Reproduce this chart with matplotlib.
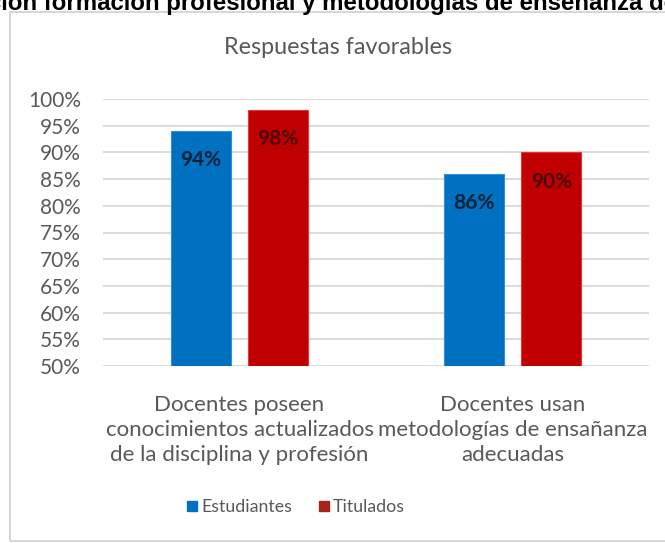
import matplotlib
matplotlib.use("Agg")
import matplotlib.pyplot as plt
import numpy as np
from matplotlib.patches import Rectangle
from matplotlib.lines import Line2D

# Data
categories = [
    "Docentes poseen\nconocimientos actualizados\nde la disciplina y profesión",
    "Docentes usan\nmetodologías de ensañanza\nadecuadas",
]
series_names = ["Estudiantes", "Titulados"]
estudiantes = [0.94, 0.86]
titulados = [0.98, 0.90]
yticks = [0.50, 0.55, 0.60, 0.65, 0.70, 0.75, 0.80, 0.85, 0.90, 0.95, 1.00]

blue = "#0070C0"
red = "#C00000"
gray_text = "#595959"
grid_gray = "#D9D9D9"
font = "Lato"

W, H = 665, 543
fig = plt.figure(figsize=(W / 100, H / 100), dpi=100)

# Chart area frame
frame = Rectangle((10 / W, 1 - 541 / H), (672 - 10) / W, (541 - 12) / H,
                  transform=fig.transFigure, facecolor="none",
                  edgecolor="#CFCFCF", linewidth=1.2, zorder=-1)
fig.patches.append(frame)

# Page heading, cut by the image edge
heading = "Percepción formación profesional y metodologías de enseñanza docente"
prefix = "Percepci"
hsize = 17.3
renderer = fig.canvas.get_renderer()
tmp = fig.text(0, 0, prefix, fontsize=hsize, fontweight="bold", family="Liberation Sans")
pw = tmp.get_window_extent(renderer).width
tmp.remove()
fig.text((-pw + 8) / W, 1 - 10 / H, heading, fontsize=hsize, fontweight="bold",
         family="Liberation Sans", ha="left", va="baseline", color="black")

ax = fig.add_axes([103 / W, 1 - 366 / H, (649 - 103) / W, (366 - 99) / H])
ax.set_facecolor("none")

x = np.arange(len(categories))
bw = 0.22
off = 0.142
b1 = ax.bar(x - off, estudiantes, bw, color=blue, edgecolor="#2F8FE0", linewidth=0.8, zorder=3)
b2 = ax.bar(x + off, titulados, bw, color=red, edgecolor="#F03030", linewidth=0.8, zorder=3)

for bars, vals, c in ((b1, estudiantes, "#0B2238"), (b2, titulados, "#4A0808")):
    for rect, v in zip(bars, vals):
        ax.annotate(f"{v:.0%}", (rect.get_x() + rect.get_width() / 2, v),
                    xytext=(0, -21), textcoords="offset points",
                    ha="center", va="center", fontsize=15, fontweight="bold",
                    color=c, family=font, zorder=4)

ax.set_ylim(0.5, 1.0)
ax.set_xlim(-0.5, 1.5)
ax.set_yticks(yticks)
ax.set_yticklabels([f"{t:.0%}" for t in yticks])
ax.yaxis.grid(True, color=grid_gray, linewidth=1.3, zorder=0)
ax.set_axisbelow(True)
for s in ax.spines.values():
    s.set_visible(False)
ax.tick_params(axis="y", length=0, pad=16, labelsize=15, labelcolor=gray_text)
ax.tick_params(axis="x", length=0, pad=21)
for lbl in ax.get_yticklabels():
    lbl.set_family(font)
ax.set_xticks(x)
ax.set_xticklabels(categories, fontsize=16, color=gray_text, family=font,
                   linespacing=1.32)

fig.text(338 / W, 1 - 48 / H, "Respuestas favorables", fontsize=16.8,
         color=gray_text, family=font, ha="center", va="center")

handles = [Line2D([], [], marker="s", linestyle="none", markersize=7,
                  markerfacecolor=blue, markeredgecolor=blue),
           Line2D([], [], marker="s", linestyle="none", markersize=7,
                  markerfacecolor="#A8231A", markeredgecolor="#A8231A")]
leg = fig.legend(handles, series_names, loc="center", ncol=2,
                 bbox_to_anchor=(294 / W, 1 - 507 / H), frameon=False,
                 prop={"family": font, "size": 12.8}, handletextpad=0.0,
                 columnspacing=1.3, handlelength=1.0)
for t in leg.get_texts():
    t.set_color(gray_text)

fig.savefig("out.png", dpi=100)
